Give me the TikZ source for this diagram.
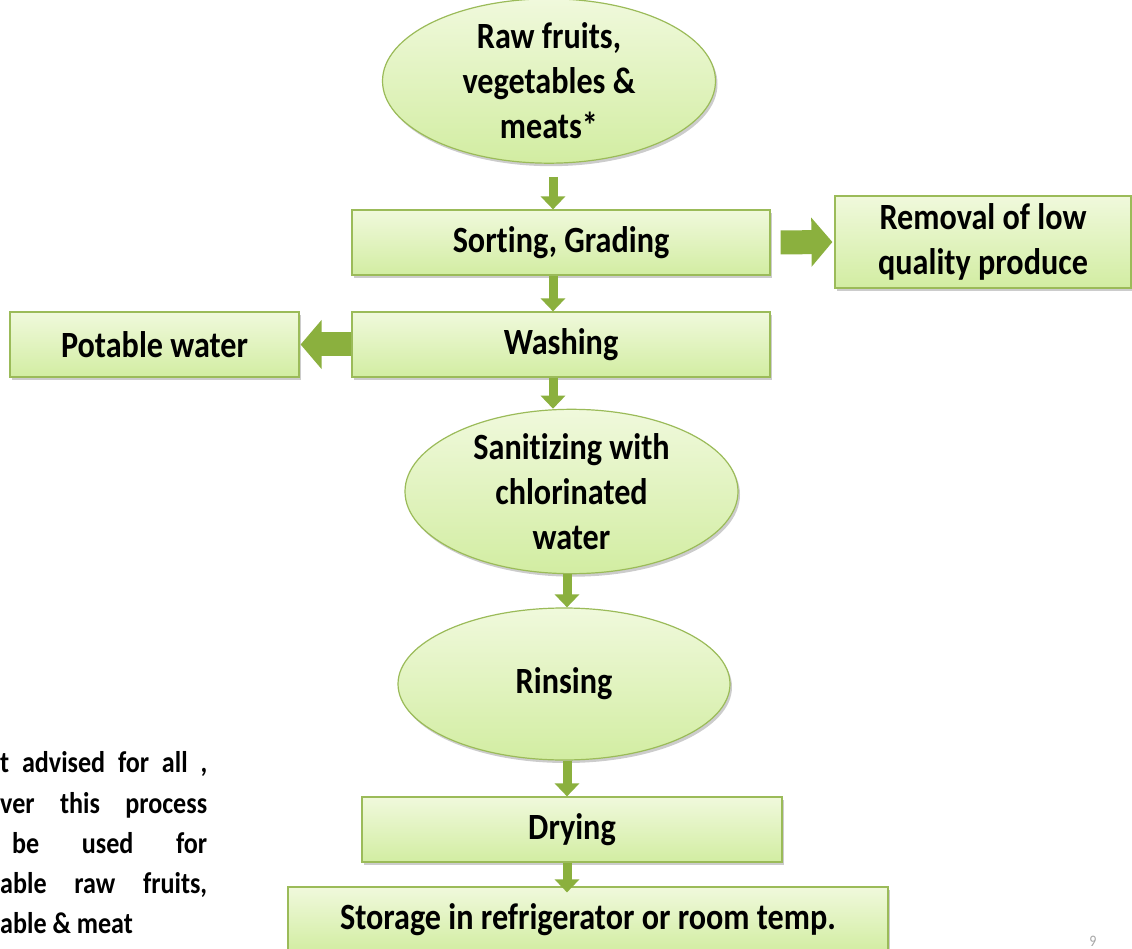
\documentclass[tikz,border=0pt]{standalone}
\usepackage{fontspec}
\setmainfont{Carlito}[FakeStretch=0.87, Ligatures={NoCommon}]
\usetikzlibrary{shapes.geometric,arrows.meta,shadows}
\definecolor{bordergreen}{RGB}{155,187,89}
\definecolor{filltop}{RGB}{240,249,220}
\definecolor{fillbot}{RGB}{210,237,162}
\definecolor{arrowgreen}{RGB}{139,176,62}
\tikzset{
 box/.style={draw=bordergreen, line width=1.2pt, top color=filltop, bottom color=fillbot,
   inner sep=0pt, font=\bfseries\fontsize{37}{45}\selectfont, align=center,
   drop shadow={shadow xshift=2pt, shadow yshift=-3pt, opacity=0.2, fill=black}},
 rbox/.style={box, rectangle},
 ebox/.style={box, ellipse},
 thinarrow/.style={draw=arrowgreen, line width=9pt, -{Triangle[width=24pt,length=13pt]}},
 bigarrow/.style={draw=arrowgreen, line width=24pt, -{Triangle[width=48pt,length=21pt]}},
 note/.style={anchor=base west, inner sep=0pt, font=\bfseries\fontsize{30}{40}\selectfont},
}
\begin{document}
\begin{tikzpicture}[x=1pt,y=-1pt]
\clip (0,0) rectangle (1132,949);
\fill[white] (0,0) rectangle (1132,949);

\node[ebox, minimum width=333pt, minimum height=152pt] (raw) at (549,81) {Raw fruits,\\vegetables \&\\meats*};
\node[rbox, minimum width=418pt, minimum height=65pt] (sort) at (561,242.5) {Sorting, Grading};
\node[rbox, minimum width=296pt, minimum height=92pt] (rem) at (983,242) {Removal of low\\quality produce};
\node[rbox, minimum width=418pt, minimum height=65pt] (wash) at (561,344.5) {Washing};
\node[rbox, minimum width=289pt, minimum height=65pt] (pot) at (154.5,344.5) {Potable water};
\node[ebox, minimum width=333pt, minimum height=157pt] (san) at (571.5,491.5) {Sanitizing with\\chlorinated\\water};
\node[ebox, minimum width=332pt, minimum height=152pt] (rin) at (564,684) {Rinsing};
\node[rbox, minimum width=420pt, minimum height=65pt] (dry) at (572,829.5) {Drying};
\node[rbox, minimum width=600pt, minimum height=65pt] (sto) at (588,919.5) {Storage in refrigerator or room temp.};

\draw[thinarrow, shorten <=13pt] ([xshift=4pt]raw.south) -- ([xshift=4pt]raw.south |- sort.north);
\draw[thinarrow] ([xshift=-8pt]sort.south) -- ([xshift=-8pt]wash.north);
\draw[thinarrow] ([xshift=-8pt]wash.south) -- ([xshift=-18.5pt]san.north);
\draw[thinarrow] ([xshift=-4.5pt]san.south) -- ([xshift=3pt]rin.north);
\draw[thinarrow] ([xshift=3pt]rin.south) -- ([xshift=-5pt]dry.north);
\draw[thinarrow, shorten >=-6pt] ([xshift=-5pt]dry.south) -- ([xshift=-21pt]sto.north);

\draw[bigarrow, shorten <=10pt, shorten >=2pt] (sort.east) -- (rem.west);
\draw[bigarrow, shorten >=1pt] (wash.west) -- (pot.east);

\node[note] (n1) at (0,772) {\makebox[207pt][s]{t advised for all ,}};
\node[note] (n2) at (0,813) {\makebox[207pt][s]{ver this process}};
\node[note] (n3) at (12,853) {\makebox[195pt][s]{be used for}};
\node[note] (n4) at (0,893) {\makebox[207pt][s]{able raw fruits,}};
\node[note] (n5) at (0,933) {able \& meat};

\node[text=gray!70, font=\fontsize{16}{18}\selectfont, anchor=base, inner sep=0pt] (pg) at (1093,946) {9};
\end{tikzpicture}
\end{document}
